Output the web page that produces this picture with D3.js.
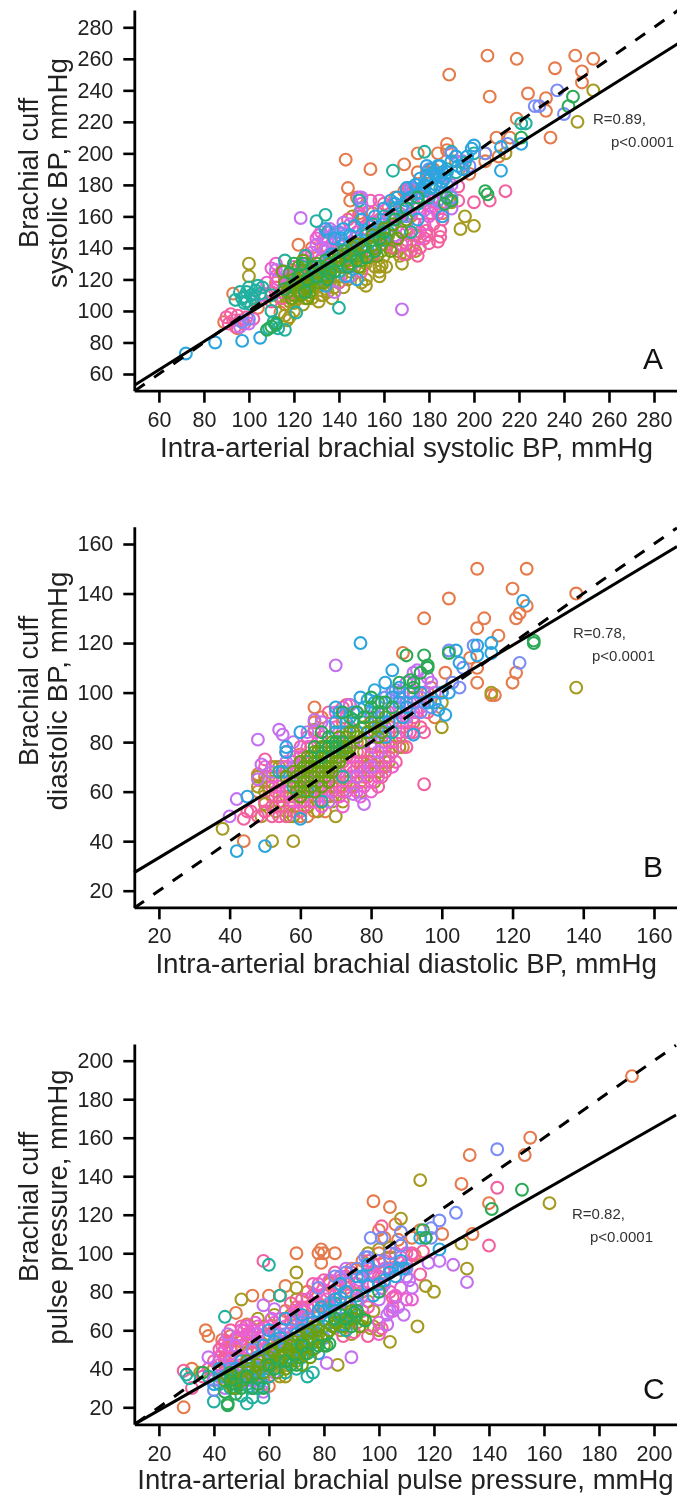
<!DOCTYPE html>
<html>
<head>
<meta charset="utf-8">
<script src="https://cdnjs.cloudflare.com/ajax/libs/d3/7.8.5/d3.min.js"></script>
<style>
  body { margin: 0; background: #fff; }
  svg { display: block; font-family: "Liberation Sans", Arial, sans-serif; filter: blur(0.4px); }
</style>
</head>
<body>
<script>
// series colours, one per recording site / group, in drawing order
const groupNames = ["orange", "olive", "pink", "magenta", "purple", "teal", "periwinkle", "sky", "lime", "green"];
const groupColors = ["#E57A4B", "#A59A20", "#F2609F", "#EC5FD0", "#C470F0", "#22B0A0", "#7A8CF5", "#2CA5DE", "#6AA012", "#2BAA55"];

// panel A: systolic [intra-arterial, cuff]
const sysOrange = [[206,262],[219,260],[189,250],[245,262],[253,260],[236,254],[248,252],[248,245],[207,236],[224,238],[232,235],[232,227],[219,222],[234,210],[210,210],[216,210],[188,206],[184,200],[188,202],[175,200],[169,193],[154,190],[143,196],[175,188],[179,188],[144,178],[148,172],[145,170],[122,142],[128,140],[93,111],[211,198],[198,187],[149,162],[186,162],[89,93],[95,89],[104,102],[177,172],[169,176],[114,99],[155,162],[162,166],[118,122],[125,130],[130,118],[140,150],[150,160],[155,150],[165,172],[172,160],[178,170],[120,125],[112,118],[135,128],[182,190],[192,195],[205,195]];
const sysPink = [[214,176],[207,170],[200,169],[193,170],[193,179],[185,147],[185,151],[179,151],[179,148],[175,135],[172,138],[176,140],[180,143],[170,145],[165,140],[160,150],[155,135],[150,125],[145,130],[140,118],[135,140],[130,135],[125,120],[118,118],[115,125],[112,122],[110,112],[92,98],[90,96],[93,94],[95,97],[94,90],[98,92],[102,95],[120,112],[128,128],[134,140],[138,146],[143,138],[148,150],[152,145],[158,158],[163,152],[168,165],[172,172],[176,162],[182,155],[170,176],[171,174],[176,150],[183,165],[186,158],[124,128],[127,120],[119,126],[116,120],[122,124],[132,132],[136,134],[142,128],[147,140],[153,155],[156,147],[161,142],[166,146],[169,136],[173,142],[178,146],[174,155],[181,162],[184,144],[165,160],[160,168],[154,170],[149,160],[144,158],[174,175],[171,178],[99,96],[91,92],[96,94],[112,115],[107,110],[110,106],[115,108]];
const sysMagenta = [[131,148],[133,145],[128,126],[110,127],[113,120],[116,125],[120,128],[125,132],[140,145],[145,155],[150,168],[153,163],[158,170],[164,168],[170,155],[175,165],[180,160],[182,170],[178,155],[132,150],[130,146],[134,147],[137,143],[139,140],[128,137],[126,135],[136,136],[141,141],[147,146],[151,152],[156,156],[162,160],[167,162],[173,168],[177,172],[181,166],[184,162],[176,146],[170,150],[168,142],[114,112],[117,118],[119,122],[124,124],[112,130],[108,118]];
const sysPurple = [[123,159],[168,101],[149,172],[136,152],[138,150],[130,142],[134,138],[173,178],[190,165],[185,175],[195,195],[100,92],[96,90],[105,110],[120,118],[138,112],[135,125],[145,122],[155,140],[165,148],[142,156],[135,146],[132,140],[150,172],[172,162],[178,164],[190,180],[186,168],[112,126],[118,122]];
const sysTeal = [[223,219],[221,219],[178,201],[190,201],[164,189],[149,170],[134,161],[130,157],[116,132],[94,107],[98,109],[101,110],[99,106],[103,113],[105,111],[100,115],[97,108],[140,102],[110,100],[121,99],[109,89],[112,91],[111,93],[113,89],[116,88],[110,110],[118,115],[125,135],[130,128],[140,125],[148,138],[155,155],[160,160],[165,165],[175,168],[180,172],[185,178],[188,190],[192,188],[196,194],[200,200],[172,150],[135,150],[142,142],[128,120],[122,118],[96,112],[99,112],[102,108],[104,116],[106,115],[101,104],[98,105],[136,134],[144,140],[152,148],[158,152],[162,150],[168,160],[132,122]];
const sysPeriwinkle = [[237,240],[227,230],[229,230],[240,225],[215,206],[175,180],[180,190],[184,186],[188,180],[195,190],[198,192],[205,200],[187,175],[190,172],[184,170],[190,200],[172,178],[150,165],[160,155],[170,160],[140,150],[136,150],[143,148],[100,95],[97,93]];
const sysSky = [[105,83],[97,81],[85,80],[72,73],[212,189],[221,206],[212,204],[200,205],[199,203],[181,190],[183,186],[185,185],[178,180],[180,183],[186,182],[188,188],[176,175],[170,170],[165,168],[160,165],[150,158],[145,148],[140,135],[135,130],[130,125],[125,118],[170,178],[178,176],[185,192],[190,195],[192,198],[195,190],[166,172],[142,152],[138,146],[134,152],[155,150],[160,145],[175,158],[186,160],[143,122],[134,116],[140,130],[150,145],[145,128],[148,120],[182,188],[184,192],[179,186],[176,184],[181,178],[183,180],[186,188],[187,184],[177,178],[174,180],[179,192],[172,172],[168,166],[163,170],[156,160],[152,150],[147,154],[141,146],[137,136],[133,126],[128,122],[146,142],[153,138],[158,150],[164,158],[193,192],[197,198]];
const sysOlive = [[253,240],[246,220],[214,200],[205,200],[196,160],[194,152],[200,154],[146,160],[100,130],[100,122],[152,116],[152,120],[158,125],[159,129],[174,148],[167,135],[189,170],[190,169],[116,97],[117,94],[142,115],[133,110],[128,108],[120,105],[125,108],[128,112],[130,120],[132,110],[135,112],[138,115],[140,118],[115,112],[118,110],[122,115],[125,122],[128,118],[130,115],[135,125],[140,130],[142,128],[145,125],[148,135],[150,128],[152,130],[155,142],[158,128],[160,135],[163,140],[165,145],[170,142],[172,150],[120,118],[112,106],[137,108],[118,106],[122,108],[124,104],[127,110],[131,106],[134,114],[136,118],[138,122],[141,122],[144,120],[147,128],[150,118],[154,134],[156,128],[159,138],[161,128],[158,122],[162,148],[166,138],[168,130],[170,136],[174,138],[114,108],[116,104],[120,100],[118,96]];
const sysLime = [[118,115],[120,120],[122,112],[124,118],[126,114],[128,124],[130,130],[124,126],[116,118],[119,108],[126,108],[127,116],[131,118],[133,122],[136,130],[140,135],[143,132],[146,140],[148,142],[152,138],[155,148],[158,145],[160,152],[164,155],[150,132],[157,135],[168,150],[115,125],[122,128],[117,112],[119,116],[121,118],[123,110],[125,116],[127,112],[129,120],[131,124],[133,118],[135,122],[137,128],[139,132],[141,128],[143,136],[145,130],[147,136],[149,128],[151,142],[153,134],[156,140],[159,142],[161,146],[163,138],[166,146],[170,158],[124,132],[128,128],[134,126],[120,110]];
const sysGreen = [[244,236],[221,210],[205,176],[206,174],[242,230],[130,122],[132,128],[135,120],[138,125],[142,138],[145,135],[150,140],[155,145],[160,150],[165,158],[170,165],[175,172],[122,122],[120,130],[188,172],[187,168],[190,170],[125,112],[110,90],[112,92],[108,88],[126,120],[128,128],[134,132],[136,124],[140,132],[144,128],[148,132],[152,134],[156,138],[158,146],[118,124],[116,114],[124,130]];

// panel B: diastolic
const diaOrange = [[110,150],[124,150],[120,142],[102,138],[138,140],[124,135],[122,132],[121,130],[112,130],[110,126],[95,130],[116,123],[110,110],[108,114],[101,108],[121,108],[120,104],[110,104],[114,99],[115,99],[89,116],[64,94],[66,90],[64,88],[44,40],[60,50],[97,102],[96,100],[98,90],[89,78],[48,67],[53,70],[48,60],[50,66],[52,58],[55,70],[57,62],[60,75],[62,65],[64,58],[66,70],[68,78],[70,62],[72,88],[74,70],[76,80],[78,66],[80,75],[82,85],[85,80],[87,90],[90,88],[92,98],[95,100],[72,90],[74,95],[57,55],[62,50],[54,64],[58,68],[60,60],[62,58],[66,60],[68,58],[70,68],[74,64],[76,72],[78,70],[84,72],[86,78],[88,78],[56,58],[64,52],[67,52],[72,60]];
const diaPink = [[95,63],[95,84],[92,84],[50,73],[44,49],[50,52],[45,52],[54,50],[72,94],[73,95],[46,52],[48,50],[50,56],[52,62],[52,54],[54,58],[55,64],[56,68],[58,52],[58,72],[60,60],[60,78],[62,68],[63,56],[64,74],[65,62],[66,82],[67,58],[68,70],[69,76],[70,64],[71,80],[72,72],[73,60],[74,86],[75,68],[76,76],[77,64],[78,72],[79,84],[80,68],[81,78],[82,62],[83,88],[84,74],[85,92],[86,80],[88,84],[90,78],[92,90],[94,86],[96,92],[56,76],[54,54],[50,52],[76,92],[68,92],[53,60],[55,56],[57,58],[59,68],[59,62],[61,54],[61,72],[63,62],[63,78],[65,58],[65,70],[67,62],[67,74],[69,60],[69,66],[71,58],[71,68],[73,66],[73,74],[75,62],[75,80],[77,70],[77,76],[79,66],[79,72],[81,70],[81,84],[83,66],[83,78],[85,74],[87,82],[87,72],[89,86],[91,84],[93,92],[62,82],[70,86],[78,90],[72,62],[60,52],[56,50],[52,50],[80,64],[84,68]];
const diaMagenta = [[50,70],[52,66],[56,60],[58,66],[60,70],[62,78],[64,84],[66,66],[68,60],[70,74],[72,84],[74,66],[76,70],[78,62],[80,60],[82,72],[84,80],[86,70],[88,92],[90,84],[92,96],[94,104],[80,90],[58,74],[60,56],[66,54],[72,54],[77,58],[54,62],[56,70],[58,56],[60,74],[62,62],[64,56],[66,60],[68,66],[70,68],[72,60],[74,74],[76,60],[78,68],[80,78],[82,66],[84,86],[86,76],[88,88],[90,96],[92,92],[94,94],[70,92],[66,80],[76,84]];
const diaPurple = [[70,111],[54,85],[55,83],[48,81],[42,57],[40,50],[78,55],[92,108],[93,109],[64,89],[49,71],[48,65],[68,56],[75,59],[74,95],[56,72],[58,80],[60,64],[64,68],[68,74],[72,78],[76,66],[80,70],[82,76],[84,92],[86,88],[88,100],[90,90],[92,100],[94,98],[96,106],[97,104],[78,80],[66,88],[62,84],[68,86],[74,80],[80,82],[84,84],[88,94],[90,104],[95,100],[98,100],[70,70],[64,64],[58,70],[52,68]];
const diaTeal = [[62,72],[66,76],[70,84],[74,90],[54,68],[58,62],[62,60],[82,90],[86,84],[78,88],[72,66],[66,56]];
const diaPeriwinkle = [[122,112],[105,102],[109,119],[106,110],[103,104],[100,100],[87,101],[84,98],[90,96],[97,94],[94,92],[102,117],[82,90],[86,100],[88,98],[92,96],[95,96],[83,96],[80,92]];
const diaSky = [[77,120],[123,137],[110,115],[110,119],[114,120],[114,116],[104,117],[105,112],[86,109],[84,104],[81,101],[77,98],[60,84],[56,78],[56,76],[55,68],[42,36],[50,38],[60,49],[101,91],[92,83],[99,93],[84,82],[71,92],[73,84],[72,77],[45,58],[70,88],[75,92],[80,84],[85,88],[90,94],[94,100],[100,100],[98,96],[88,96],[78,94],[82,86],[70,94],[86,98],[88,102],[91,100],[79,97],[73,88],[76,84],[81,96],[83,92],[89,90],[96,96],[102,100]];
const diaOlive = [[138,102],[38,45],[52,40],[58,40],[70,50],[65,52],[72,56],[77,60],[100,86],[100,96],[84,70],[88,78],[48,62],[51,62],[52,70],[50,55],[49,50],[114,100],[64,85],[69,56],[54,56],[56,62],[58,58],[60,66],[62,54],[64,62],[66,68],[68,64],[70,58],[72,66],[74,62],[76,66],[78,76],[80,72],[82,68],[84,78],[86,76],[88,82],[92,88],[60,72],[56,52],[52,64],[50,60],[53,52],[55,54],[57,50],[59,60],[61,56],[63,58],[65,56],[67,60],[69,62],[71,62],[73,64],[75,62],[77,68],[79,70],[81,64],[83,70],[85,72],[58,50],[54,70],[50,64],[48,66]];
const diaLime = [[58,64],[60,62],[60,68],[61,60],[62,64],[62,70],[63,66],[64,60],[64,72],[65,68],[65,76],[66,62],[66,72],[67,66],[67,78],[68,68],[68,74],[69,70],[69,80],[70,72],[70,78],[71,74],[71,82],[72,76],[72,80],[73,78],[74,84],[76,82],[78,86],[80,88],[82,82],[84,90],[63,74],[66,78],[60,58],[56,66],[59,66],[61,64],[61,70],[63,62],[63,70],[64,66],[65,64],[65,72],[66,68],[66,76],[67,70],[67,74],[68,64],[68,72],[68,78],[69,68],[69,74],[70,76],[70,80],[71,72],[71,78],[72,78],[73,76],[73,82],[74,78],[62,74],[64,76],[59,60],[58,68],[60,72],[75,84],[77,80],[79,84],[81,86],[83,84]];
const diaGreen = [[90,115],[95,115],[96,110],[96,111],[91,105],[102,116],[126,120],[126,121],[80,98],[80,94],[86,94],[92,102],[75,89],[72,92],[82,96],[78,90],[68,82],[70,80],[64,78],[66,84],[94,108],[88,104],[70,78],[72,80],[68,78],[82,92],[84,96],[76,92],[92,104],[66,74]];

// panel C: pulse pressure
const ppOrange = [[192,192],[155,160],[153,151],[133,151],[130,136],[98,127],[104,124],[140,126],[134,110],[123,110],[70,100],[79,102],[80,100],[78,100],[84,100],[79,95],[102,108],[106,115],[115,112],[112,108],[107,107],[37,60],[38,57],[48,69],[54,78],[60,78],[66,83],[29,20],[32,40],[52,63],[60,31],[43,55],[46,57],[90,92],[82,85],[69,65],[72,70],[102,90],[113,99],[42,44],[46,50],[50,54],[54,60],[58,62],[62,58],[66,70],[70,66],[74,80],[78,74],[82,84],[86,88],[90,80],[94,96],[98,90],[100,100],[56,46],[60,52],[64,50],[52,38],[48,36],[44,42],[48,50],[58,50],[72,66],[76,72],[84,76],[88,84],[92,92],[96,94],[104,98],[108,104],[100,112]];
const ppPink = [[143,134],[140,104],[58,96],[115,89],[101,114],[116,101],[112,99],[29,39],[32,30],[43,52],[44,50],[105,77],[106,77],[87,57],[91,59],[96,57],[101,61],[56,41],[36,36],[40,44],[42,50],[44,38],[46,46],[48,56],[50,42],[52,58],[54,48],[56,54],[58,40],[60,62],[62,50],[64,66],[66,56],[68,74],[70,60],[72,72],[74,64],[76,84],[78,68],[80,78],[82,72],[84,90],[86,70],[88,82],[90,90],[92,76],[94,88],[96,72],[98,94],[100,88],[102,96],[104,80],[106,100],[108,92],[46,60],[50,62],[44,54],[42,46],[44,44],[46,54],[48,46],[50,52],[52,50],[54,54],[56,58],[58,52],[60,56],[62,60],[64,58],[66,66],[68,64],[70,72],[72,76],[74,72],[76,78],[78,82],[80,86],[82,80],[84,78],[86,86],[88,88],[92,84],[94,80],[96,96],[98,88],[100,96],[104,92],[106,92],[110,94],[112,100],[58,32],[50,38],[46,42]];
const ppMagenta = [[38,40],[42,42],[46,38],[50,46],[54,60],[58,56],[62,64],[66,62],[70,70],[74,76],[78,84],[82,86],[86,74],[90,66],[94,70],[98,84],[102,92],[106,78],[110,100],[52,62],[50,60],[56,62],[100,58],[43,48],[45,52],[47,42],[49,56],[51,60],[53,58],[55,64],[57,60],[59,50],[61,66],[65,54],[69,68],[73,70],[77,78],[81,76],[85,82],[89,84],[93,86],[97,90],[101,82],[105,72],[110,76],[112,76],[100,64],[105,70],[108,82]];
const ppPurple = [[81,43],[90,46],[38,46],[58,73],[62,71],[103,68],[111,86],[109,68],[107,72],[127,94],[132,85],[122,96],[118,95],[103,63],[45,58],[53,31],[40,34],[44,30],[48,52],[52,34],[56,44],[60,36],[64,48],[68,52],[72,58],[76,60],[80,66],[84,62],[88,92],[92,82],[96,92],[100,76],[104,70],[108,98],[42,36],[46,44],[50,32],[54,34],[58,28],[62,38],[50,40],[56,58],[66,54],[72,62],[86,88],[94,78],[102,84],[110,88],[112,82]];
const ppTeal = [[60,94],[44,67],[40,23],[52,22],[54,25],[58,25],[76,38],[74,36],[70,40],[30,37],[31,35],[64,78],[38,36],[42,32],[46,30],[50,26],[52,32],[56,38],[60,40],[64,44],[68,50],[72,46],[76,54],[80,62],[84,70],[88,60],[92,78],[48,30],[54,30],[50,34],[56,30],[60,36],[66,38],[62,44],[70,50],[74,60],[78,62],[84,74],[86,62]];
const ppPeriwinkle = [[143,154],[128,121],[122,117],[119,113],[108,111],[97,108],[119,108],[101,108],[95,98],[40,29],[46,40],[50,36],[54,50],[58,44],[62,58],[68,60],[74,66],[80,56],[86,66],[92,74],[96,84],[104,92],[110,92],[78,82],[84,88],[88,90],[92,92],[96,98],[100,96],[104,100],[108,104],[66,58],[72,64],[82,74]];
const ppSky = [[122,102],[117,108],[115,108],[107,92],[109,92],[96,83],[86,77],[79,72],[87,63],[77,51],[56,35],[63,44],[65,48],[40,32],[44,36],[48,40],[52,42],[56,46],[58,52],[62,54],[66,48],[70,58],[74,56],[78,48],[82,64],[86,84],[90,72],[94,88],[98,78],[102,86],[106,88],[60,60],[66,66],[72,68],[78,70],[57,34],[42,40],[46,36],[50,44],[54,40],[60,50],[64,56],[68,46],[72,60],[76,64],[80,70],[84,76],[88,80],[92,88],[96,94],[100,84],[104,90],[108,96]];
const ppOlive = [[115,138],[108,118],[162,126],[130,105],[132,92],[120,80],[117,83],[114,62],[104,54],[85,42],[70,90],[70,82],[50,76],[64,78],[97,61],[98,70],[100,60],[56,66],[35,38],[96,100],[100,102],[104,103],[64,36],[40,40],[44,46],[48,34],[52,48],[56,40],[60,58],[64,42],[68,56],[72,50],[76,62],[80,72],[84,66],[88,74],[92,64],[96,75],[70,76],[62,68],[42,36],[46,42],[50,38],[54,44],[58,36],[62,46],[66,36],[70,44],[74,50],[78,58],[82,70],[86,60],[90,58],[94,62],[98,62],[54,56],[68,68]];
const ppLime = [[44,34],[46,32],[47,36],[48,30],[49,38],[50,34],[52,44],[54,36],[56,42],[58,38],[60,46],[61,42],[62,48],[63,38],[64,52],[65,46],[66,40],[67,50],[68,44],[69,54],[70,48],[71,56],[72,42],[73,52],[74,58],[75,46],[76,50],[77,62],[78,54],[80,52],[82,60],[84,64],[86,68],[88,64],[90,70],[92,68],[94,66],[45,36],[47,30],[48,34],[51,36],[53,40],[55,38],[57,44],[59,42],[61,50],[63,44],[65,52],[66,48],[67,44],[68,52],[70,52],[71,46],[72,54],[73,48],[74,54],[76,56],[78,60],[79,56],[81,58],[83,62],[85,64],[87,62],[89,66],[91,66],[93,62],[75,60],[69,48]];
const ppGreen = [[152,133],[141,123],[116,112],[117,108],[100,80],[45,21],[45,22],[48,27],[58,30],[81,52],[91,69],[88,66],[95,65],[44,28],[46,34],[50,30],[56,32],[60,42],[66,44],[70,42],[74,48],[82,53],[36,38],[46,38],[48,32],[52,36],[54,30],[62,40],[68,42],[72,52],[78,52],[84,66],[86,68],[90,62],[92,70]];

// tick labels
const sysTicks = [60,80,100,120,140,160,180,200,220,240,260,280];
const diaTicks = [20,40,60,80,100,120,140,160];
const ppTicks = [20,40,60,80,100,120,140,160,180,200];

// regression line ends [x, y], the dashed one is the line of identity
const sysFit = [[49.3,53],[291,270]];
const diaFit = [[13,27.3],[166.5,159]];
const ppFit = [[11.5,11.5],[208,171.8]];
const sysEnds = [49.3,291];
const diaEnds = [13,166.5];
const ppEnds = [11.5,208];

const width = 677, height = 1497;
const svg = d3.select("body").append("svg")
    .attr("width", width)
    .attr("height", height)
    .attr("viewBox", [0, 0, width, height]);

function drawPanel(p) {
  const x = d3.scaleLinear().domain([p.ticks[0], p.ticks[p.ticks.length - 1]]).range([158.9, 654]);
  const y = d3.scaleLinear().domain(p.yDomain).range(p.yRange);
  const left = 134.3, bottom = p.bottom;
  const g = svg.append("g");

  // rings
  p.groups.forEach((pts, i) => {
    g.append("g")
        .attr("fill", "none")
        .attr("stroke", groupColors[i])
        .attr("stroke-width", 2.1)
      .selectAll("circle")
      .data(pts)
      .join("circle")
        .attr("cx", d => x(d[0]))
        .attr("cy", d => y(d[1]))
        .attr("r", 5.9);
  });

  const line = d3.line().x(d => x(d[0])).y(d => y(d[1]));
  g.append("path")
      .attr("d", line(p.ends.map(v => [v, v])))
      .attr("fill", "none")
      .attr("stroke", "#000")
      .attr("stroke-width", 3)
      .attr("stroke-dasharray", "12 11.5");
  g.append("path")
      .attr("d", line(p.fit))
      .attr("fill", "none")
      .attr("stroke", "#000")
      .attr("stroke-width", 3);

  // axes, domain path runs from the origin corner to the image edge
  const xAxis = d3.axisBottom(x.copy().domain([x.invert(left), x.invert(width)]).range([left, width]))
      .tickValues(p.ticks).tickFormat(d3.format("d")).tickSize(12).tickSizeOuter(0).tickPadding(8);
  const yAxis = d3.axisLeft(y.copy().domain([y.invert(bottom), y.invert(p.top)]).range([bottom, p.top]))
      .tickValues(p.ticks).tickFormat(d3.format("d")).tickSize(11).tickSizeOuter(0).tickPadding(10);
  const ax = g.append("g").attr("transform", `translate(0,${bottom})`).call(xAxis);
  const ay = g.append("g").attr("transform", `translate(${left},0)`).call(yAxis);
  [ax, ay].forEach(a => {
    a.selectAll("path, line").attr("stroke", "#000").attr("stroke-width", 2.6);
    a.selectAll("text").attr("fill", "#222").style("font-size", "21.5px");
    a.select(".domain").attr("stroke-width", 2.8);
  });
  ax.selectAll("text").attr("dy", null).attr("y", p.xTickBase - bottom);

  // titles
  g.append("text")
      .attr("x", p.xTitle[0]).attr("y", p.xTitle[2])
      .attr("textLength", p.xTitle[1] - p.xTitle[0]).attr("lengthAdjust", "spacingAndGlyphs")
      .attr("fill", "#222").style("font-size", "27px")
      .text(p.xLabel);
  p.yLabels.forEach((lab, i) => {
    g.append("text")
        .attr("transform", `translate(${[38, 67][i]},${p.yTitleMid}) rotate(-90)`)
        .attr("text-anchor", "middle")
        .attr("textLength", p.yLens[i]).attr("lengthAdjust", "spacingAndGlyphs")
        .attr("fill", "#222").style("font-size", "27px")
        .text(lab);
  });

  g.append("text").attr("x", p.letter[0]).attr("y", p.letter[1]).attr("fill", "#111")
      .style("font-size", "30px").text(p.letterText);
  g.append("text").attr("x", p.note[0]).attr("y", p.note[1]).attr("fill", "#333")
      .style("font-size", "15px").text(p.noteText);
  g.append("text").attr("x", p.note[2]).attr("y", p.note[3]).attr("fill", "#333")
      .style("font-size", "15px").text("p<0.0001");
}

drawPanel({
  groups: [sysOrange, sysOlive, sysPink, sysMagenta, sysPurple, sysTeal, sysPeriwinkle, sysSky, sysLime, sysGreen],
  ticks: sysTicks, yDomain: [60, 280], yRange: [374, 27.3],
  top: 10, bottom: 390.7, xTickBase: 426.7,
  fit: sysFit, ends: sysEnds,
  xLabel: "Intra-arterial brachial systolic BP, mmHg", xTitle: [160, 653, 456.7],
  yLabels: ["Brachial cuff", "systolic BP, mmHg"], yLens: [150, 230], yTitleMid: 173,
  letterText: "A", letter: [643, 369.3],
  noteText: "R=0.89,", note: [593, 124, 611, 146.7]
});
drawPanel({
  groups: [diaOrange, diaOlive, diaPink, diaMagenta, diaPurple, diaTeal, diaPeriwinkle, diaSky, diaLime, diaGreen],
  ticks: diaTicks, yDomain: [20, 160], yRange: [890.7, 544],
  top: 526.7, bottom: 907.3, xTickBase: 943.3,
  fit: diaFit, ends: diaEnds,
  xLabel: "Intra-arterial brachial diastolic BP, mmHg", xTitle: [155.4, 657, 972.7],
  yLabels: ["Brachial cuff", "diastolic BP, mmHg"], yLens: [150, 239], yTitleMid: 691,
  letterText: "B", letter: [643, 876.7],
  noteText: "R=0.78,", note: [573, 638, 592, 661]
});
drawPanel({
  groups: [ppOrange, ppOlive, ppPink, ppMagenta, ppPurple, ppTeal, ppPeriwinkle, ppSky, ppLime, ppGreen],
  ticks: ppTicks, yDomain: [20, 200], yRange: [1407.3, 1060.7],
  top: 1044, bottom: 1424.3, xTickBase: 1460.7,
  fit: ppFit, ends: ppEnds,
  xLabel: "Intra-arterial brachial pulse pressure, mmHg", xTitle: [137.3, 673.6, 1489.3],
  yLabels: ["Brachial cuff", "pulse pressure, mmHg"], yLens: [150, 275], yTitleMid: 1207,
  letterText: "C", letter: [643, 1399],
  noteText: "R=0.82,", note: [572, 1219, 590, 1242]
});
</script>
</body>
</html>
